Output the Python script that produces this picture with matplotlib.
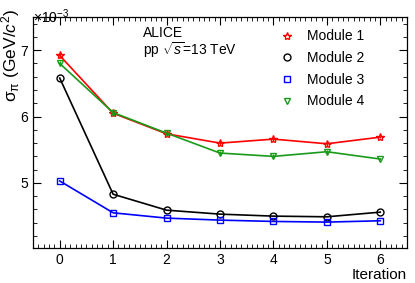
import matplotlib
matplotlib.use("Agg")
import matplotlib.pyplot as plt
from matplotlib.lines import Line2D
from matplotlib.ticker import MultipleLocator, FixedLocator

plt.rcParams['font.family'] = ['Liberation Sans', 'DejaVu Sans']
plt.rcParams['mathtext.fontset'] = 'custom'
plt.rcParams['mathtext.rm'] = 'Liberation Sans'
plt.rcParams['mathtext.it'] = 'Liberation Sans:italic'
plt.rcParams['mathtext.default'] = 'regular'

#data (sigma in units of 1e-3 GeV/c^2)
iteration = [0, 1, 2, 3, 4, 5, 6]
module1 = [6.92, 6.05, 5.74, 5.60, 5.66, 5.59, 5.69]
module2 = [6.58, 4.83, 4.59, 4.53, 4.50, 4.49, 4.56]
module3 = [5.03, 4.55, 4.47, 4.44, 4.42, 4.41, 4.43]
module4 = [6.80, 6.06, 5.75, 5.45, 5.40, 5.47, 5.36]
err1 = [0.04, 0.03, 0.03, 0.03, 0.03, 0.03, 0.02]
err4 = [0.03, 0.03, 0.03, 0.03, 0.03, 0.03, 0.02]
labels = ["Module 1", "Module 2", "Module 3", "Module 4"]

fig = plt.figure(figsize=(4.15, 2.83), dpi=100)
ax = fig.add_axes([0.0795, 0.1237, 0.9012, 0.8163])

green = '#1a9a1a'
colors = ['red', 'black', 'blue', green]
markers = ['*', 'o', 's', 'v']
sizes = [6, 5, 5, 5]

ax.errorbar(iteration, module1, yerr=err1, color=colors[0], marker=markers[0], mfc='none',
            ms=sizes[0], lw=1.2, elinewidth=1, capsize=0)
ax.errorbar(iteration, module2, color=colors[1], marker=markers[1], mfc='none',
            ms=sizes[1], lw=1.2)
ax.errorbar(iteration, module3, color=colors[2], marker=markers[2], mfc='none',
            ms=sizes[2], lw=1.2)
ax.errorbar(iteration, module4, yerr=err4, color=colors[3], marker=markers[3], mfc='none',
            ms=sizes[3], lw=1.2, elinewidth=1, capsize=0)

ax.set_xlim(-0.5, 6.5)
ax.set_ylim(4.02, 7.5)
ax.xaxis.set_major_locator(MultipleLocator(1))
ax.xaxis.set_minor_locator(MultipleLocator(0.1))
ax.yaxis.set_major_locator(FixedLocator([5, 6, 7]))
ax.yaxis.set_minor_locator(MultipleLocator(0.2))
ax.tick_params(which='both', direction='in', top=True, right=True, labelsize=10)
ax.tick_params(which='major', length=6)
ax.tick_params(which='minor', length=3)
for s in ax.spines.values():
    s.set_linewidth(0.9)

ax.set_xlabel("Iteration", fontsize=11, loc='right', labelpad=1)
ax.set_ylabel(r"$\sigma_{\pi}$ (GeV/$\it{c}^{2}$)", fontsize=12.5, loc='top')
ax.yaxis.set_label_coords(-0.03, 1.035)
fig.text(0.08, 0.975, r"$\times$10$^{-3}$", fontsize=10, ha='left', va='top')

ax.text(0.295, 0.915, "ALICE", transform=ax.transAxes, fontsize=10)
ax.text(0.295, 0.835, r"pp $\sqrt{\it{s}}$=13 TeV", transform=ax.transAxes, fontsize=10)

handles = [Line2D([], [], color=c, marker=m, mfc='none', ms=s, ls='none')
           for c, m, s in zip(colors, markers, sizes)]
ax.legend(handles, labels, loc='upper left', bbox_to_anchor=(0.628, 1.0), frameon=False,
          fontsize=10, handlelength=1.0, handletextpad=0.9, labelspacing=0.55)

fig.savefig("out.png", dpi=100)
